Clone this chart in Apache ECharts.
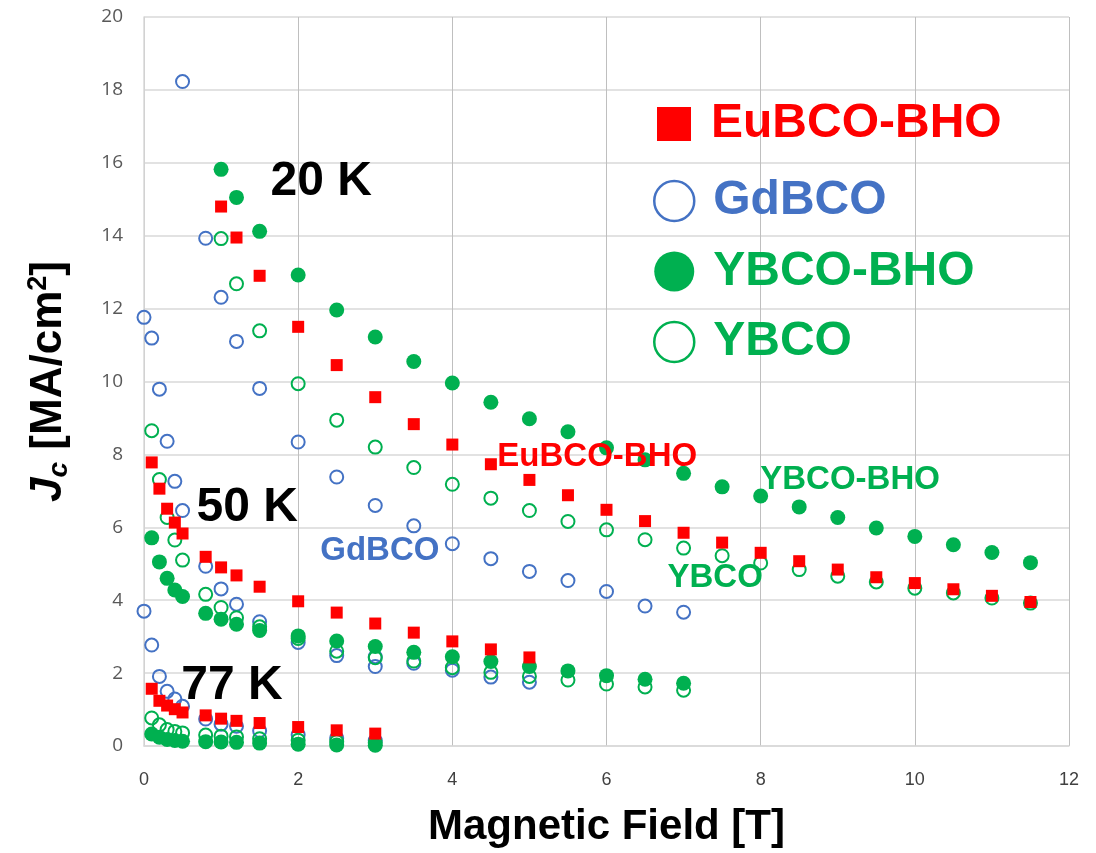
<!DOCTYPE html>
<html>
<head>
<meta charset="utf-8">
<script src="https://cdn.jsdelivr.net/npm/echarts@6/dist/echarts.min.js"></script>
<style>
  html, body { margin: 0; padding: 0; background: #ffffff; }
  #chart { width: 1096px; height: 853px; }
</style>
</head>
<body>
<div id="chart"></div>
<script>
// ---- Data: [magnetic field (T), Jc (MA/cm^2)] ----
const eu20 = [[1,14.8],[1.2,13.95],[1.5,12.9],[2,11.5],[2.5,10.45],[3,9.57],[3.5,8.83],[4,8.27],[4.5,7.73],[5,7.3],[5.5,6.88],[6,6.48],[6.5,6.17],[7,5.85],[7.5,5.58],[8,5.3],[8.5,5.07],[9,4.84],[9.5,4.63],[10,4.47],[10.5,4.3],[11,4.12],[11.5,3.95]];
const eu50 = [[0.1,7.78],[0.2,7.06],[0.3,6.51],[0.4,6.13],[0.5,5.83],[0.8,5.19],[1,4.9],[1.2,4.68],[1.5,4.37],[2,3.97],[2.5,3.66],[3,3.36],[3.5,3.11],[4,2.87],[4.5,2.65],[5,2.43]];
const eu77 = [[0.1,1.57],[0.2,1.24],[0.3,1.11],[0.4,1.01],[0.5,0.92],[0.8,0.84],[1,0.75],[1.2,0.69],[1.5,0.63],[2,0.52],[2.5,0.43],[3,0.34]];

const gd20 = [[0.5,18.23],[0.8,13.93],[1,12.31],[1.2,11.1],[1.5,9.81],[2,8.34],[2.5,7.38],[3,6.6],[3.5,6.04],[4,5.55],[4.5,5.14],[5,4.79],[5.5,4.54],[6,4.24],[6.5,3.84],[7,3.67]];
const gd50 = [[0,11.76],[0.1,11.19],[0.2,9.79],[0.3,8.36],[0.4,7.26],[0.5,6.46],[0.8,4.93],[1,4.31],[1.2,3.89],[1.5,3.41],[2,2.84],[2.5,2.48],[3,2.45],[3,2.18],[3.5,2.27],[4,2.08],[4.5,1.89],[5,1.75]];
const gd77 = [[0,3.7],[0.1,2.77],[0.2,1.91],[0.3,1.5],[0.4,1.29],[0.5,1.09],[0.8,0.74],[1,0.6],[1.2,0.54],[1.5,0.42],[2,0.31],[2.5,0.22],[3,0.15]];

const ybhoo20 = [[1,15.82],[1.2,15.05],[1.5,14.12],[2,12.92],[2.5,11.96],[3,11.22],[3.5,10.55],[4,9.96],[4.5,9.43],[5,8.98],[5.5,8.62],[6,8.18],[6.5,7.85],[7,7.48],[7.5,7.11],[8,6.86],[8.5,6.56],[9,6.27],[9.5,5.98],[10,5.75],[10.5,5.52],[11,5.31],[11.5,5.03]];
const ybhoo50 = [[0.1,5.71],[0.2,5.05],[0.3,4.6],[0.4,4.28],[0.5,4.1],[0.8,3.64],[1,3.48],[1.2,3.34],[1.5,3.17],[2,3.02],[2.5,2.88],[3,2.73],[3.5,2.57],[4,2.45],[4.5,2.32],[5,2.18],[5.5,2.06],[6,1.93],[6.5,1.83],[7,1.72]];
const ybhoo77 = [[0.1,0.33],[0.2,0.24],[0.3,0.18],[0.4,0.15],[0.5,0.13],[0.8,0.12],[1,0.11],[1.2,0.1],[1.5,0.08],[2,0.05],[2.5,0.03],[3,0.02]];

const ybco20 = [[1,13.92],[1.2,12.68],[1.5,11.39],[2,9.94],[2.5,8.94],[3,8.2],[3.5,7.64],[4,7.18],[4.5,6.8],[5,6.46],[5.5,6.16],[6,5.93],[6.5,5.66],[7,5.43],[7.5,5.22],[8,5.02],[8.5,4.84],[9,4.66],[9.5,4.5],[10,4.33],[10.5,4.2],[11,4.06],[11.5,3.92]];
const ybco50 = [[0.1,8.65],[0.2,7.31],[0.3,6.27],[0.4,5.65],[0.5,5.1],[0.8,4.16],[1,3.8],[1.2,3.52],[1.5,3.27],[2,2.95],[2.5,2.6],[3,2.42],[3.5,2.33],[4,2.15],[4.5,2.02],[5,1.91],[5.5,1.81],[6,1.7],[6.5,1.62],[7,1.53]];
const ybco77 = [[0.1,0.77],[0.2,0.58],[0.3,0.45],[0.4,0.4],[0.5,0.36],[0.8,0.3],[1,0.27],[1.2,0.25],[1.5,0.2],[2,0.16],[2.5,0.12],[3,0.09]];

// Annotation texts, anchored at data coordinates
const annoText  = ['20 K', '50 K', '77 K', 'GdBCO', 'EuBCO-BHO', 'YBCO-BHO', 'YBCO'];
const annoPos   = [[2.30,15.49],[1.34,6.54],[1.14,1.66],[3.06,5.34],[5.88,7.92],[9.16,7.30],[7.41,4.62]];
const annoColor = ['#000000','#000000','#000000','#4472C4','#FF0000','#00B050','#00B050'];
const annoSize  = [48,48,48,33,33,33,33];

const RED = '#FF0000', BLUE = '#4472C4', GREEN = '#00B050';
const SANS = '"Liberation Sans", Arial, sans-serif';

const chart = echarts.init(document.getElementById('chart'), null, { renderer: 'canvas' });

const option = {
  backgroundColor: '#ffffff',
  animation: false,
  grid: { left: 144, right: 27, top: 17, bottom: 105, containLabel: false },
  xAxis: {
    type: 'value', min: 0, max: 12, interval: 2,
    name: 'Magnetic Field [T]', nameLocation: 'middle', nameGap: 60,
    nameTextStyle: { fontFamily: SANS, fontWeight: 'bold', fontSize: 42, color: '#000' },
    axisLine: { show: true, lineStyle: { color: '#D9D9D9', width: 1.5 } },
    axisTick: { show: false },
    axisLabel: { fontFamily: SANS, fontSize: 18, color: '#404040', margin: 25 },
    splitLine: { show: true, lineStyle: { color: '#BFBFBF', width: 1 } }
  },
  yAxis: {
    type: 'value', min: 0, max: 20, interval: 2,
    name: '{i|J}{sub|c}{n| [MA/cm}{sup|2}{n|]}', nameLocation: 'middle', nameGap: 71,
    nameTextStyle: {
      color: '#000',
      rich: {
        i:   { fontFamily: SANS, fontWeight: 'bold', fontStyle: 'italic', fontSize: 44, lineHeight: 48, color: '#000' },
        sub: { fontFamily: SANS, fontWeight: 'bold', fontStyle: 'italic', fontSize: 28, lineHeight: 26, verticalAlign: 'bottom', color: '#000' },
        n:   { fontFamily: SANS, fontWeight: 'bold', fontSize: 44, lineHeight: 48, color: '#000' },
        sup: { fontFamily: SANS, fontWeight: 'bold', fontSize: 27, lineHeight: 26, verticalAlign: 'top', color: '#000' }
      }
    },
    axisLine: { show: true, lineStyle: { color: '#D9D9D9', width: 1.5 } },
    axisTick: { show: false },
    axisLabel: { fontFamily: '"Open Sans", sans-serif', fontSize: 19, color: '#595959', margin: 21 },
    splitLine: { show: true, lineStyle: { color: '#D9D9D9', width: 1.5 } }
  },
  legend: [
    {
      orient: 'vertical', left: 652, top: 95, itemWidth: 34, itemHeight: 34,
      itemGap: 22, selectedMode: false,
      textStyle: { fontFamily: SANS, fontWeight: 'bold', fontSize: 48, lineHeight: 48, padding: [0,0,0,15] },
      data: [{ name: 'EuBCO-BHO', icon: 'rect', textStyle: { color: RED } }]
    },
    {
      orient: 'vertical', left: 648, top: 172, itemWidth: 40, itemHeight: 40,
      itemGap: 22.5, selectedMode: false,
      textStyle: { fontFamily: SANS, fontWeight: 'bold', fontSize: 48, lineHeight: 48, padding: [0,0,0,14] },
      data: [
        { name: 'GdBCO', icon: 'circle', textStyle: { color: BLUE }, itemStyle: { color: 'rgba(0,0,0,0)', borderColor: BLUE, borderWidth: 2.5 } },
        { name: 'YBCO-BHO', icon: 'circle', textStyle: { color: GREEN }, itemStyle: { color: GREEN, borderWidth: 0 } },
        { name: 'YBCO', icon: 'circle', textStyle: { color: GREEN }, itemStyle: { color: 'rgba(0,0,0,0)', borderColor: GREEN, borderWidth: 2.5 } }
      ]
    }
  ],
  series: [
    {
      name: 'GdBCO', type: 'scatter', symbol: 'circle', symbolSize: 13, z: 2,
      itemStyle: { color: 'rgba(0,0,0,0)', borderColor: BLUE, borderWidth: 2, opacity: 1 },
      data: [...gd20, ...gd50, ...gd77]
    },
    {
      name: 'YBCO', type: 'scatter', symbol: 'circle', symbolSize: 13, z: 3,
      itemStyle: { color: 'rgba(0,0,0,0)', borderColor: GREEN, borderWidth: 2, opacity: 1 },
      data: [...ybco20, ...ybco50, ...ybco77]
    },
    {
      name: 'YBCO-BHO', type: 'scatter', symbol: 'circle', symbolSize: 15, z: 4,
      itemStyle: { color: GREEN, opacity: 1 },
      data: [...ybhoo20, ...ybhoo50, ...ybhoo77]
    },
    {
      name: 'EuBCO-BHO', type: 'scatter', symbol: 'rect', symbolSize: 12, z: 5,
      itemStyle: { color: RED, opacity: 1 },
      data: [...eu20, ...eu50, ...eu77]
    },
    {
      name: 'annotations', type: 'scatter', symbolSize: 1, z: 10, silent: true,
      itemStyle: { color: 'rgba(0,0,0,0)', opacity: 1 },
      label: {
        show: true, position: 'inside', fontFamily: SANS, fontWeight: 'bold',
        textBorderWidth: 0, opacity: 1,
        formatter: p => p.name
      },
      data: annoText.map((t, i) => ({
        name: t, value: annoPos[i],
        label: { color: annoColor[i], fontSize: annoSize[i] }
      }))
    }
  ]
};
chart.setOption(option);
</script>
</body>
</html>
